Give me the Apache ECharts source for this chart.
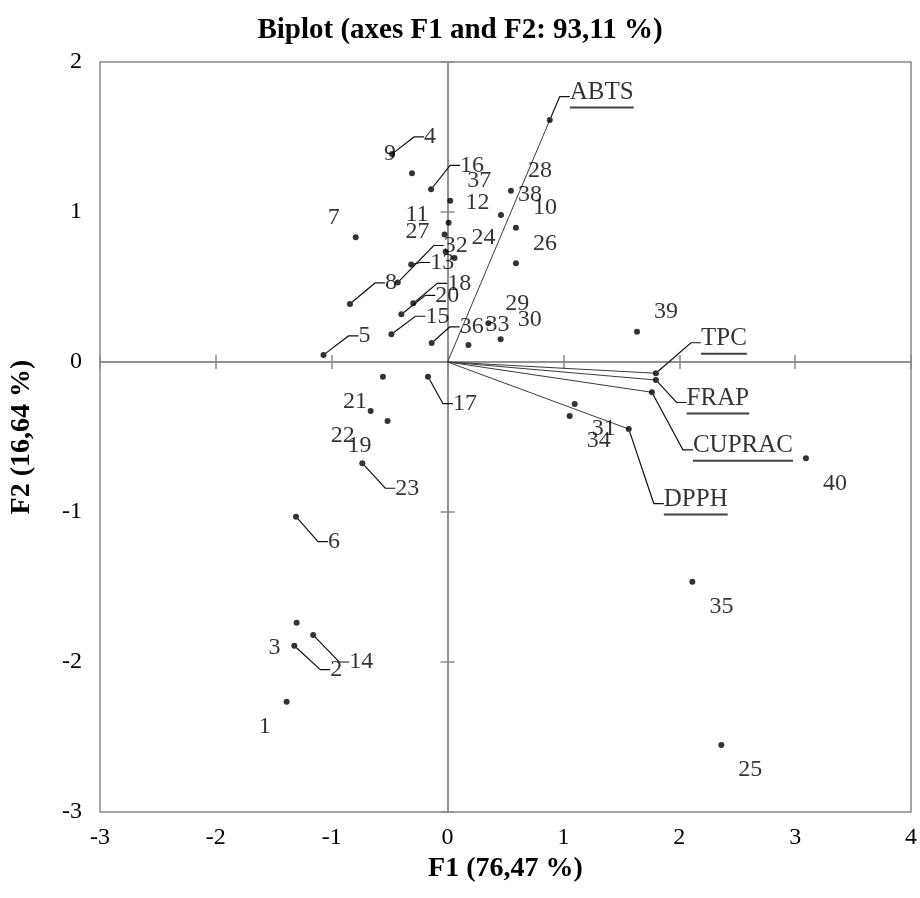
<!DOCTYPE html>
<html>
<head>
<meta charset="utf-8">
<title>Biplot</title>
<script src="https://cdn.jsdelivr.net/npm/echarts@6/dist/echarts.min.js"></script>
<style>
  html, body { margin: 0; padding: 0; background: #fff; }
  #chart { width: 920px; height: 898px; }
</style>
</head>
<body>
<div id="chart"></div>
<script>
// observation scores on F1 / F2
const obsNames = ['1', '2', '3', '4', '5', '6', '7', '8', '9', '10',
  '11', '12', '13', '14', '15', '16', '17', '18', '19', '20',
  '21', '22', '23', '24', '25', '26', '27', '28', '29', '30',
  '31', '32', '33', '34', '35', '36', '37', '38', '39', '40'];
const obsF1 = [-1.389, -1.323, -1.303, -0.479, -1.071, -1.308, -0.793, -0.842, -0.307, 0.590,
  -0.026, 0.009, -0.314, -1.160, -0.485, -0.142, -0.169, -0.296, -0.518, -0.399,
  -0.558, -0.664, -0.736, 0.060, 2.363, 0.590, -0.017, 0.547, 0.352, 0.458,
  1.097, -0.430, 0.180, 1.054, 2.113, -0.137, 0.023, 0.461, 1.635, 3.093];
const obsF2 = [-2.265, -1.891, -1.738, 1.387, 0.047, -1.031, 0.831, 0.387, 1.258, 0.895,
  0.850, 0.929, 0.650, -1.820, 0.185, 1.151, -0.098, 0.391, -0.393, 0.318,
  -0.098, -0.327, -0.675, 0.693, -2.553, 0.658, 0.735, 1.142, 0.258, 0.151,
  -0.280, 0.530, 0.113, -0.360, -1.465, 0.127, 1.075, 0.980, 0.202, -0.642];

// variable loadings (vectors from the origin)
const varNames = ['ABTS', 'TPC', 'FRAP', 'CUPRAC', 'DPPH'];
const varF1 = [0.882, 1.798, 1.798, 1.764, 1.564];
const varF2 = [1.613, -0.075, -0.120, -0.202, -0.447];

const chartTitle = 'Biplot (axes F1 and F2: 93,11 %)';
const xTitle = 'F1 (76,47 %)';
const yTitle = 'F2 (16,64 %)';

// labels moved away from their point (px), drawn with a leader line
const leaderOffsets = {
  '2': [42, 24], '4': [38, -17], '5': [41, -19], '6': [38, 25], '8': [41, -21],
  '13': [31, -2], '14': [48, 27], '15': [46, -18], '16': [41, -24], '17': [37, 27],
  '18': [46, -20], '20': [46, -19], '23': [45, 25], '32': [58, -37], '36': [40, -16]
};
const varOffsets = {
  ABTS: [52, -26], TPC: [68, -33], FRAP: [62, 20], CUPRAC: [91, 55], DPPH: [67, 72]
};

const serif = '"Liberation Serif", "Times New Roman", serif';
const frameColor = '#8a8a8a';

const chart = echarts.init(document.getElementById('chart'));

function zeroAxis(dim, inside) {
  return {
    type: 'value',
    min: -3,
    max: dim === 'x' ? 4 : 2,
    interval: 1,
    axisLine: { show: true, onZero: true, onZeroAxisIndex: 0, lineStyle: { color: frameColor, width: 1.5 } },
    axisTick: { show: true, inside: inside, length: 7, lineStyle: { color: frameColor, width: 1.5 } },
    axisLabel: { show: false },
    splitLine: { show: false }
  };
}

const lineSeries = varNames.map((n, i) => ({
  type: 'line',
  silent: true,
  symbol: 'none',
  lineStyle: { color: '#3a3a3a', width: 1 },
  data: [[0, 0], [varF1[i], varF2[i]]],
  z: 2
}));

chart.setOption({
  animation: false,
  title: {
    text: chartTitle,
    left: 'center',
    top: 11,
    textStyle: { fontFamily: serif, fontWeight: 'bold', fontSize: 29, color: '#000' }
  },
  grid: {
    left: 100, right: 6, top: 62, bottom: 86,
    show: true, borderColor: frameColor, borderWidth: 1.5
  },
  xAxis: [
    {
      type: 'value', min: -3, max: 4, interval: 1, position: 'bottom',
      axisLine: { show: false }, axisTick: { show: false }, splitLine: { show: false },
      axisLabel: { color: '#000', fontFamily: serif, fontSize: 24, margin: 14 },
      name: xTitle, nameLocation: 'middle', nameGap: 32,
      nameTextStyle: { fontFamily: serif, fontWeight: 'bold', fontSize: 28, color: '#000' }
    },
    zeroAxis('x', false),
    zeroAxis('x', true)
  ],
  yAxis: [
    {
      type: 'value', min: -3, max: 2, interval: 1, position: 'left',
      axisLine: { show: false }, axisTick: { show: false }, splitLine: { show: false },
      axisLabel: { color: '#000', fontFamily: serif, fontSize: 24, margin: 18 },
      name: yTitle, nameLocation: 'middle', nameGap: 64,
      nameTextStyle: { fontFamily: serif, fontWeight: 'bold', fontSize: 28, color: '#000' }
    },
    zeroAxis('y', false),
    zeroAxis('y', true)
  ],
  series: lineSeries.concat([
    {
      type: 'scatter',
      symbolSize: 6,
      itemStyle: { color: '#000' },
      data: varNames.map((n, i) => ({ name: n, value: [varF1[i], varF2[i]] })),
      label: {
        show: true,
        position: 'inside',
        align: 'left',
        formatter: '{t|{b}}\n{u|}',
        rich: {
          t: { fontFamily: serif, fontSize: 25, color: '#000', lineHeight: 27 },
          u: { width: '100%', height: 2, lineHeight: 4, backgroundColor: '#111' }
        }
      },
      labelLayout: p => {
        const o = varOffsets[varNames[p.dataIndex]];
        return { dx: o[0] - p.labelRect.width / 2, dy: o[1] };
      },
      labelLine: { show: true, length2: 10, lineStyle: { color: '#111', width: 1.2 } },
      z: 3
    },
    {
      type: 'scatter',
      symbolSize: 6,
      itemStyle: { color: '#000' },
      data: obsNames.map((n, i) => ({
        name: n,
        value: [obsF1[i], obsF2[i]],
        labelLine: { show: !!leaderOffsets[n] }
      })),
      label: {
        show: true,
        position: 'inside',
        formatter: '{b}',
        color: '#000',
        textBorderWidth: 0,
        fontFamily: serif,
        fontSize: 24
      },
      labelLayout: p => {
        const n = obsNames[p.dataIndex];
        if (leaderOffsets[n]) {
          return { dx: leaderOffsets[n][0], dy: leaderOffsets[n][1] };
        }
        const right = obsF1[p.dataIndex] >= 0;
        const up = obsF2[p.dataIndex] >= 0;
        const w = p.labelRect.width;
        return {
          dx: right ? 17 + w / 2 : -(16 + w / 2),
          dy: up ? -20 : 25
        };
      },
      labelLine: { length2: 10, lineStyle: { color: '#111', width: 1.2 } },
      z: 4
    }
  ])
});
</script>
</body>
</html>
